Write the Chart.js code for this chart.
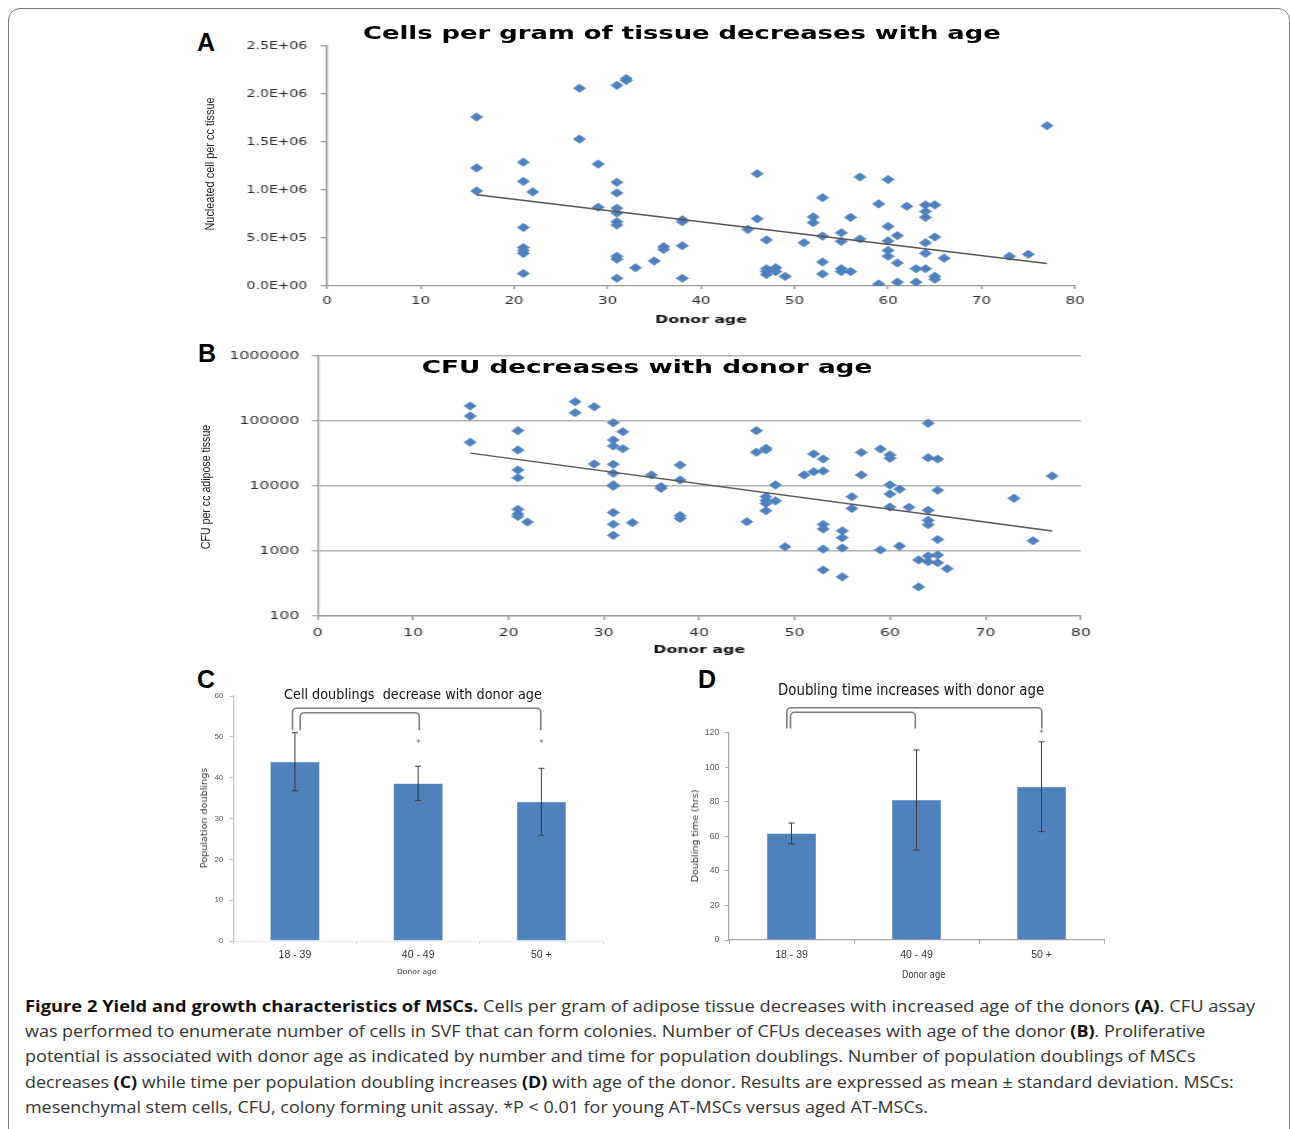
<!DOCTYPE html>
<html><head><meta charset="utf-8">
<script src="https://cdn.jsdelivr.net/npm/chart.js@4.4.1/dist/chart.umd.min.js"></script>
<style>
html,body{margin:0;padding:0;background:#fff;}
body{width:1290px;height:1129px;position:relative;overflow:hidden;font-family:'Liberation Sans',Arial,sans-serif;}
.frame{position:absolute;left:8px;top:8px;width:1282px;height:1200px;border:1.5px solid #7a7a7a;border-radius:12px;box-sizing:border-box;}
.stretch{position:absolute;transform-origin:0 0;transform:scaleX(1.43);}
.stretch canvas{position:absolute;left:0;top:0;}
.letter{position:absolute;font:bold 25px/25px 'Liberation Sans',Arial,sans-serif;color:#000;}
.ptitle{position:absolute;font:bold 18.3px/18.3px 'DejaVu Sans',Verdana,sans-serif;color:#000;white-space:nowrap;}
.ntitle{position:absolute;font-family:'Liberation Sans Narrow','DejaVu Sans Condensed','Liberation Sans',sans-serif;color:#111;white-space:nowrap;line-height:1;}
.rot{position:absolute;white-space:nowrap;line-height:1;color:#222;}
.cap{position:absolute;left:25px;white-space:nowrap;font:16.5px/20px 'Open Sans','Noto Sans',sans-serif;color:#333;}
.cap b{color:#111;font-weight:bold;}
canvas{display:block;}
</style>
</head>
<body>
<div class="frame"></div>

<div class="letter" style="left:197px;top:30px">A</div>
<div class="letter" style="left:198px;top:341px">B</div>
<div class="letter" style="left:197px;top:667px">C</div>
<div class="letter" style="left:698px;top:667px">D</div>

<div class="stretch" style="left:190px;top:10px;width:636px;height:330px">
  <canvas id="cA" width="636" height="330"></canvas>
  <div class="ptitle fit" data-cx="343.4" data-w="445.5" style="top:13.8px">Cells per gram of tissue decreases with age</div>
</div>
<div class="stretch" style="left:190px;top:340px;width:636px;height:320px">
  <canvas id="cB" width="636" height="320"></canvas>
  <div class="ptitle fit" data-cx="318.9" data-w="314.7" style="top:17.8px">CFU decreases with donor age</div>
</div>

<div class="rot fit" data-rot="1" data-cx="208.7" data-cy="164" data-w="133" style="font:13px/1 'Liberation Sans Narrow','Liberation Sans',sans-serif;">Nucleated cell per cc tissue</div>
<div class="rot fit" data-rot="1" data-cx="205" data-cy="487" data-w="124" style="font:13px/1 'Liberation Sans Narrow','Liberation Sans',sans-serif;">CFU per cc adipose tissue</div>

<canvas id="cC" width="430" height="325" style="position:absolute;left:190px;top:660px;"></canvas>
<canvas id="cD" width="440" height="325" style="position:absolute;left:680px;top:660px;"></canvas>

<div class="ntitle fit" data-cx="413" data-w="258" style="top:687px;font-size:14.5px;">Cell doublings&nbsp; decrease with donor age</div>
<div class="ntitle fit" data-cx="911" data-w="266" style="top:682.6px;font-size:15.5px;">Doubling time increases with donor age</div>

<div class="rot fit" data-rot="1" data-cx="205" data-cy="818" data-w="100" style="font:8px/1 'DejaVu Sans',sans-serif;color:#333;">Population doublings</div>
<div class="rot fit" data-rot="1" data-cx="696" data-cy="835.7" data-w="93" style="font:8px/1 'DejaVu Sans',sans-serif;color:#333;">Doubling time (hrs)</div>
<div class="ntitle fit" data-cx="416.7" data-w="40" style="top:969px;font:7px/1 'DejaVu Sans',sans-serif;color:#333;">Donor age</div>
<div class="ntitle fit" data-cx="923.3" data-w="43" style="top:968.5px;font-size:10.5px;color:#333;">Donor age</div>

<div class="cap fit" data-left="25" data-w="1230" style="top:996px"><b>Figure 2 Yield and growth characteristics of MSCs.</b> Cells per gram of adipose tissue decreases with increased age of the donors <b>(A)</b>. CFU assay</div>
<div class="cap fit" data-left="25" data-w="1180" style="top:1021px">was performed to enumerate number of cells in SVF that can form colonies. Number of CFUs deceases with age of the donor <b>(B)</b>. Proliferative</div>
<div class="cap fit" data-left="25" data-w="1171" style="top:1046px">potential is associated with donor age as indicated by number and time for population doublings. Number of population doublings of MSCs</div>
<div class="cap fit" data-left="25" data-w="1209" style="top:1071.5px">decreases <b>(C)</b> while time per population doubling increases <b>(D)</b> with age of the donor. Results are expressed as mean ± standard deviation. MSCs:</div>
<div class="cap fit" data-left="25" data-w="903" style="top:1097px">mesenchymal stem cells, CFU, colony forming unit assay. *P &lt; 0.01 for young AT-MSCs versus aged AT-MSCs.</div>

<script>
// ================= DATA =================
// Panel A: nucleated cells per cc tissue vs donor age
const ageA = [16,16,16, 21,21,21,21,21,21,21, 22, 27,27, 29,29,
  31,31,31,31,31,31,31,31,31,31, 32,32, 33, 35, 36,36, 38,38,38,38,
  45, 46,46, 47,47,47,47, 48,48, 49, 51, 52,52, 53,53,53,53,
  55,55,55,55, 56,56, 57,57, 59,59, 60,60,60,60,60, 61,61,61, 62, 63,63,
  64,64,64,64,64,64, 65,65,65,65, 66, 73, 75, 77];
const cellsA = [1760000,1230000,990000, 1290000,1090000,610000,400000,370000,340000,130000, 980000, 2060000,1530000, 1270000,820000,
  2090000,1080000,970000,810000,760000,670000,635000,310000,280000,80000, 2160000,2140000, 190000, 260000, 410000,380000, 690000,670000,420000,80000,
  590000, 1170000,700000, 480000,180000,150000,120000, 190000,150000, 100000, 450000, 720000,660000, 920000,520000,250000,125000,
  555000,465000,180000,150000, 715000,150000, 1135000,490000, 855000,20000, 1110000,620000,470000,370000,310000, 525000,240000,40000, 830000, 180000,40000,
  845000,775000,715000,450000,340000,180000, 845000,510000,100000,70000, 290000, 310000, 330000, 1670000];
const trendAgeA = [16, 77];
const trendCellsA = [950000, 235000];

// Panel B: CFU per cc adipose tissue vs donor age (log scale)
const ageB = [16,16,16, 21,21,21,21,21,21,21, 22, 27,27, 29,29,
  31,31,31,31,31,31,31,31,31,31, 32,32, 33, 35, 36,36, 38,38,38,38,
  45, 46,46, 47,47,47,47,47,47, 48,48, 49, 51, 52,52, 53,53,53,53,53,53,
  55,55,55,55, 56,56, 57,57, 59,59, 60,60,60,60,60, 61,61, 62, 63,63,
  64,64,64,64,64,64,64, 65,65,65,65,65, 66, 73, 75, 77];
const cfuB = [170000,119000,47000, 71000,35800,17600,13400,4370,3700,3400, 2790, 198000,134000, 166000,21800,
  94000,51000,41200,21600,15700,10400,9900,3900,2580,1740, 68500,37500, 2730, 14800, 9800,9200, 21000,12400,3500,3170,
  2820, 71000,33000, 38000,36000,6840,6000,5400,4170, 10400,5900, 1160, 14800, 31000,16600, 26000,17000,2560,2180,1070,510,
  2040,1600,1110,400, 6840,4500, 32800,14800, 37100,1040, 30000,26700,10400,7530,4750, 8900,1190, 4700, 730,280,
  92000,27200,4220,2960,2540,840,685, 26000,8600,1500,865,660, 535, 6460, 1440, 14230];
const trendAgeB = [16, 77];
const trendCfuB = [32000, 2030];
const logTicksB = [100, 1000, 10000, 100000, 1000000];

// Panels C and D: bar charts by donor age group (mean ± SD)
const ageGroups = ['18 - 39', '40 - 49', '50 +'];
const doublingsMean = [43.9, 38.6, 34.1];
const doublingsSD = [7.1, 4.2, 8.2];
const doublingTimeMean = [61.7, 81, 88.7];
const doublingTimeSD = [6, 29, 26];
// significance brackets: [fromGroup, toGroup, level]
const bracketsC = [[0, 2, 57], [0, 1, 55.9]];
const bracketDropC = 51.6;
const starsC = [1, 2];
const starLevelC = 48.9;
const bracketsD = [[0, 2, 134.4], [0, 1, 131.8]];
const bracketDropD = 122.5;
const starsD = [2];
const starLevelD = 120.5;

// ================= CHARTS =================
const BLUE = '#4F81BD';
const AXIS = '#9a9a9a';

function pairs(xs, ys) { return xs.map((x, i) => ({x: x, y: ys[i]})); }
function fmtE(v) {
  const parts = Number(v).toExponential(1).split('e');
  const ex = parseInt(parts[1], 10);
  return parts[0] + 'E' + (ex < 0 ? '-' : '+') + String(Math.abs(ex)).padStart(2, '0');
}

const base = {
  responsive: false, animation: false, events: [],
  plugins: {legend: {display: false}, tooltip: {enabled: false}, title: {display: false}}
};

// Panel A
new Chart(document.getElementById('cA'), {
  type: 'scatter',
  data: {datasets: [
    {data: pairs(ageA, cellsA), pointStyle: 'rectRot', pointRadius: 4.3, pointHoverRadius: 4.3,
     backgroundColor: BLUE, borderColor: BLUE, borderWidth: 0.5, order: 1},
    {data: pairs(trendAgeA, trendCellsA), showLine: true, pointRadius: 0, borderColor: '#555', borderWidth: 1.4, order: 0}
  ]},
  options: Object.assign({}, base, {
    layout: {padding: {left: 0, right: 17.1, top: 36, bottom: 0}},
    scales: {
      x: {type: 'linear', min: 0, max: 80,
        ticks: {stepSize: 10, maxRotation: 0, padding: 5.7, color: '#2a2a2a', font: {family: 'DejaVu Sans', size: 10.5}},
        grid: {drawOnChartArea: false, drawTicks: true, tickLength: 3, color: AXIS, lineWidth: 1.3},
        border: {color: AXIS, width: 1.3},
        title: {display: true, text: 'Donor age', color: '#111', font: {family: 'DejaVu Sans', size: 11, weight: 'bold'}, padding: {top: 0, bottom: 13.4}},
        afterFit: s => { s.height = 54; }},
      y: {type: 'linear', min: 0, max: 2500000,
        ticks: {stepSize: 500000, padding: 9.4, color: '#2a2a2a', font: {family: 'DejaVu Sans', size: 9.8}, callback: v => fmtE(v)},
        grid: {drawOnChartArea: false, drawTicks: true, tickLength: 4.4, color: AXIS, lineWidth: 1.3},
        border: {color: AXIS, width: 1.3},
        afterFit: s => { s.width = 95.8; }}
    }
  })
});

// Panel B
new Chart(document.getElementById('cB'), {
  type: 'scatter',
  data: {datasets: [
    {data: pairs(ageB, cfuB), pointStyle: 'rectRot', pointRadius: 4.3, pointHoverRadius: 4.3,
     backgroundColor: BLUE, borderColor: BLUE, borderWidth: 0.5, order: 1},
    {data: pairs(trendAgeB, trendCfuB), showLine: true, pointRadius: 0, borderColor: '#555', borderWidth: 1.4, order: 0}
  ]},
  options: Object.assign({}, base, {
    layout: {padding: {left: 0, right: 12.6, top: 16, bottom: 0}},
    scales: {
      x: {type: 'linear', min: 0, max: 80,
        ticks: {stepSize: 10, maxRotation: 0, padding: 6.1, color: '#2a2a2a', font: {family: 'DejaVu Sans', size: 11}},
        grid: {drawOnChartArea: false, drawTicks: true, tickLength: 4, color: AXIS, lineWidth: 1.3},
        border: {color: AXIS, width: 1.3},
        title: {display: true, text: 'Donor age', color: '#111', font: {family: 'DejaVu Sans', size: 11, weight: 'bold'}, padding: {top: 0, bottom: 3.4}},
        afterFit: s => { s.height = 44; }},
      y: {type: 'logarithmic', min: 100, max: 1000000,
        afterBuildTicks: s => { s.ticks = logTicksB.map(v => ({value: v})); },
        ticks: {padding: 8.8, color: '#2a2a2a', font: {family: 'DejaVu Sans', size: 11}, callback: v => String(v)},
        grid: {drawOnChartArea: true, drawTicks: true, tickLength: 4, color: '#b4b4b4', lineWidth: 1.4},
        border: {color: AXIS, width: 1.3},
        afterFit: s => { s.width = 89.2; }}
    }
  })
});

function errPlugin(means, sds) {
  return {id: 'errbars', afterDatasetsDraw(chart) {
    const ctx = chart.ctx, y = chart.scales.y, meta = chart.getDatasetMeta(0);
    ctx.save(); ctx.strokeStyle = '#3a3a3a'; ctx.lineWidth = 1;
    meta.data.forEach((bar, i) => {
      const x = bar.x, yt = y.getPixelForValue(means[i] + sds[i]), yb = y.getPixelForValue(means[i] - sds[i]);
      ctx.beginPath();
      ctx.moveTo(x, yt); ctx.lineTo(x, yb);
      ctx.moveTo(x - 3, yt); ctx.lineTo(x + 3, yt);
      ctx.moveTo(x - 3, yb); ctx.lineTo(x + 3, yb);
      ctx.stroke();
    });
    ctx.restore();
  }};
}
function bracketPlugin(brackets, drop, stars, starLevel, offs) {
  return {id: 'brackets', afterDraw(chart) {
    const ctx = chart.ctx, x = chart.scales.x, y = chart.scales.y;
    const yd = y.getPixelForValue(drop);
    ctx.save(); ctx.strokeStyle = '#7c7c7c'; ctx.lineWidth = 1.6;
    brackets.forEach((b, k) => {
      const x1 = x.getPixelForValue(b[0]) + offs[k][0], x2 = x.getPixelForValue(b[1]) + offs[k][1];
      const yt = y.getPixelForValue(b[2]);
      ctx.beginPath(); ctx.moveTo(x1, yd); ctx.arcTo(x1, yt, x2, yt, 4); ctx.arcTo(x2, yt, x2, yd, 4); ctx.lineTo(x2, yd); ctx.stroke();
    });
    ctx.fillStyle = '#666'; ctx.font = '9px "DejaVu Sans"'; ctx.textAlign = 'center'; ctx.textBaseline = 'middle';
    stars.forEach(i => ctx.fillText('*', x.getPixelForValue(i), y.getPixelForValue(starLevel) + 2));
    ctx.restore();
  }};
}

const NARROW = "'Liberation Sans Narrow', 'Liberation Sans', sans-serif";

// Panel C
new Chart(document.getElementById('cC'), {
  type: 'bar',
  data: {labels: ageGroups, datasets: [{data: doublingsMean, backgroundColor: BLUE, borderColor: '#5b8bc4', borderWidth: 0.5, barPercentage: 0.4, categoryPercentage: 1}]},
  options: Object.assign({}, base, {
    layout: {padding: {left: 0, right: 17, top: 36, bottom: 0}},
    scales: {
      x: {ticks: {padding: 5.1, color: '#333', font: {family: NARROW, size: 10.5}},
        grid: {drawOnChartArea: false, drawTicks: true, tickLength: 3, color: '#cfcfcf'},
        border: {color: '#ececec'},
        afterFit: s => { s.height = 44; }},
      y: {min: 0, max: 60, ticks: {stepSize: 10, padding: 6, color: '#555', font: {family: NARROW, size: 8}},
        grid: {drawOnChartArea: false, drawTicks: true, tickLength: 4, color: '#c4c4c4'},
        border: {color: '#c4c4c4', width: 1.2},
        afterFit: s => { s.width = 43.3; }}
    }
  }),
  plugins: [errPlugin(doublingsMean, doublingsSD), bracketPlugin(bracketsC, bracketDropC, starsC, starLevelC, [[-2.4, -0.6], [5.3, 1.1]])]
});

// Panel D
new Chart(document.getElementById('cD'), {
  type: 'bar',
  data: {labels: ageGroups, datasets: [{data: doublingTimeMean, backgroundColor: BLUE, borderColor: '#5b8bc4', borderWidth: 0.5, barPercentage: 0.395, categoryPercentage: 1}]},
  options: Object.assign({}, base, {
    layout: {padding: {left: 0, right: 16, top: 72.7, bottom: 0}},
    scales: {
      x: {ticks: {padding: 5.1, color: '#333', font: {family: NARROW, size: 10.5}},
        grid: {drawOnChartArea: false, drawTicks: true, tickLength: 4, color: '#a8a8a8'},
        border: {color: '#a8a8a8', width: 1.2},
        afterFit: s => { s.height = 45; }},
      y: {min: 0, max: 120, ticks: {stepSize: 20, padding: 5.7, color: '#555', font: {family: NARROW, size: 8.5}},
        grid: {drawOnChartArea: false, drawTicks: true, tickLength: 4, color: '#a8a8a8'},
        border: {color: '#a8a8a8', width: 1.2},
        afterFit: s => { s.width = 49; }}
    }
  }),
  plugins: [errPlugin(doublingTimeMean, doublingTimeSD), bracketPlugin(bracketsD, bracketDropD, starsD, starLevelD, [[-4.7, 0.3], [-1, -1.2]])]
});

// ================= TEXT FITTING =================
document.querySelectorAll('.fit').forEach(el => {
  const tw = parseFloat(el.dataset.w);
  const w0 = el.offsetWidth;
  const k = tw / w0;
  if (el.dataset.rot) {
    el.style.left = el.dataset.cx + 'px';
    el.style.top = el.dataset.cy + 'px';
    el.style.transform = 'translate(-50%,-50%) rotate(-90deg) scaleX(' + k + ')';
  } else {
    const left = el.dataset.cx !== undefined ? parseFloat(el.dataset.cx) - tw / 2 : parseFloat(el.dataset.left);
    el.style.left = left + 'px';
    el.style.transformOrigin = '0 0';
    el.style.transform = 'scaleX(' + k + ')';
  }
});
</script>
</body></html>
